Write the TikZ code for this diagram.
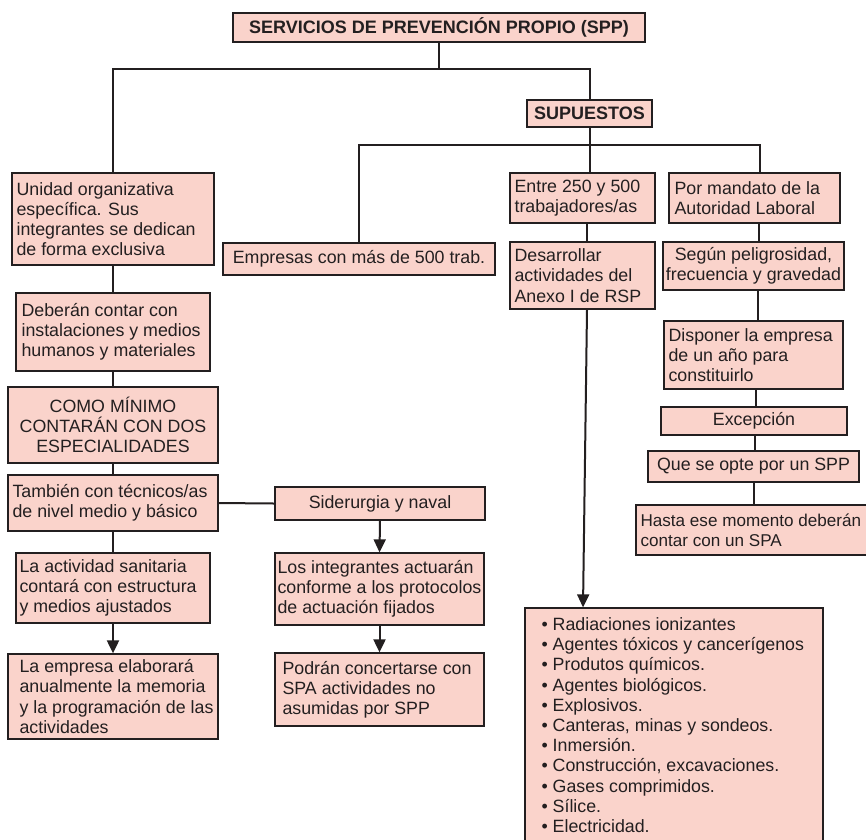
\documentclass[tikz,border=0pt]{standalone}
\usepackage{fontspec}
\setmainfont{Liberation Sans}
\usetikzlibrary{arrows.meta}
\definecolor{boxfill}{RGB}{250,211,203}
\definecolor{ink}{RGB}{35,31,32}
\tikzset{
  box/.style={draw=ink, fill=boxfill, line width=1.3pt, inner sep=0pt},
  txt/.style={inner sep=0pt, text=ink, font=\fontsize{17.8}{20.2}\selectfont},
  ttl/.style={inner sep=0pt, text=ink, font=\fontsize{18}{20}\selectfont\bfseries},
  link/.style={draw=ink, line width=2pt},
  arrow/.style={link, -{Triangle[length=13pt,width=12pt]}},
}
% box from corner (x1,y1) to (x2,y2), y counted downwards
\newcommand\boxat[5]{\node[box, minimum width={#4-#2}, minimum height={#5-#3}] (#1) at ({(#2+#4)/2},{(#3+#5)/2}) {};}
\newcommand\lefttext[3]{\node[txt, anchor=west, align=left] (#1-t) at ([xshift=#2pt]#1.west) {#3};}
\newcommand\midtext[2]{\node[txt, align=center] (#1-t) at (#1.center) {#2};}

\begin{document}
\begin{tikzpicture}[x=1pt, y=-1pt]
\useasboundingbox (0,0) rectangle (866,839);
\clip (0,0) rectangle (866,839);
\fill[white] (0,0) rectangle (866,839);

% top level
\boxat{title}{233}{13}{645}{42}
\node[ttl] (title-t) at (title.center) {SERVICIOS DE PREVENCIÓN PROPIO (SPP)};
\boxat{sup}{527}{100}{652}{127}
\node[ttl] (sup-t) at (sup.center) {SUPUESTOS};

% left column
\boxat{unidad}{12}{173}{214}{265}
\lefttext{unidad}{5}{Unidad organizativa\\específica. Sus\\integrantes se dedican\\de forma exclusiva}
\boxat{deberan}{16}{293}{210}{371}
\lefttext{deberan}{6}{Deberán contar con\\instalaciones y medios\\humanos y materiales}
\boxat{minimo}{8}{387}{218}{463}
\midtext{minimo}{COMO MÍNIMO\\CONTARÁN CON DOS\\ESPECIALIDADES}
\boxat{tambien}{8}{475}{218}{531}
\lefttext{tambien}{5}{También con técnicos/as\\de nivel medio y básico}
\boxat{actividad}{16}{553}{210}{623}
\lefttext{actividad}{4}{La actividad sanitaria\\contará con estructura\\y medios ajustados}
\boxat{empresa}{8}{654}{218}{739}
\lefttext{empresa}{12}{La empresa elaborará\\anualmente la memoria\\y la programación de las\\actividades}

% middle column
\boxat{sider}{275}{487}{485}{520}
\midtext{sider}{Siderurgia y naval}
\boxat{los}{275}{553}{484}{625}
\lefttext{los}{3}{Los integrantes actuarán\\conforme a los protocolos\\de actuación fijados}
\boxat{podran}{275}{653}{484}{726}
\lefttext{podran}{8}{Podrán concertarse con\\SPA actividades no\\asumidas por SPP}

% cases
\boxat{empresas}{223}{243}{495}{275}
\midtext{empresas}{Empresas con más de 500 trab.}
\boxat{entre}{510}{173}{655}{223}
\lefttext{entre}{5}{Entre 250 y 500\\trabajadores/as}
\boxat{desarrollar}{510}{242}{655}{309}
\lefttext{desarrollar}{5}{Desarrollar\\actividades del\\Anexo I de RSP}
\boxat{mandato}{669}{173}{840}{223}
\lefttext{mandato}{6}{Por mandato de la\\Autoridad Laboral}
\boxat{segun}{663}{242}{844}{290}
\midtext{segun}{Según peligrosidad,\\frecuencia y gravedad}
\boxat{disponer}{664}{321}{843}{389}
\lefttext{disponer}{5}{Disponer la empresa\\de un año para\\constituirlo}
\boxat{excepcion}{661}{407}{847}{435}
\midtext{excepcion}{Excepción}
\boxat{opte}{648}{451}{859}{482}
\midtext{opte}{Que se opte por un SPP}
\boxat{hasta}{636}{505}{880}{555}
\node[txt, anchor=west, align=left, font=\fontsize{17.1}{20.2}\selectfont] (hasta-t)
  at ([xshift=5pt]hasta.west) {Hasta ese momento deberán\\contar con un SPA};

% Anexo I list
\boxat{list}{525}{608}{823}{860}
\node[txt, anchor=north west, align=left] (list-t) at ([xshift=17pt,yshift=-10pt]list.north west)
  {• Radiaciones ionizantes\\• Agentes tóxicos y cancerígenos\\• Produtos químicos.\\• Agentes biológicos.\\• Explosivos.\\• Canteras, minas y sondeos.\\• Inmersión.\\• Construcción, excavaciones.\\• Gases comprimidos.\\• Sílice.\\• Electricidad.};

% junctions and line positions
\coordinate (j1) at (439,69);
\coordinate (j2) at (589,145);
\coordinate (xa) at (587,0);
\coordinate (xb) at (583,0);
\coordinate (xm0) at (760,0);
\coordinate (xm1) at (759,0);
\coordinate (xm2) at (758,0);
\coordinate (xm3) at (756,0);
\coordinate (xm4) at (755,0);
\coordinate (xm5) at (754,0);

% connectors
\draw[link] (title.south) -- (j1);
\draw[link] (unidad.north) |- (j1 -| sup.north) -- (sup.north);
\draw[link] (sup.south) -- (sup.south |- entre.north);
\draw[link] (empresas.north) |- (xm0 |- j2) -- (xm0 |- mandato.north);
\draw[link] (xa |- entre.south) -- (xa |- desarrollar.north);
\draw[arrow] (xa |- desarrollar.south) -- (xb |- list.north);
\draw[link] (xm1 |- mandato.south) -- (xm1 |- segun.north);
\draw[link] (xm2 |- segun.south) -- (xm2 |- disponer.north);
\draw[link] (xm3 |- disponer.south) -- (xm3 |- excepcion.north);
\draw[link] (xm4 |- excepcion.south) -- (xm4 |- opte.north);
\draw[link] (xm5 |- opte.south) -- (xm5 |- hasta.north);

\draw[link] (unidad.south) -- (deberan.north);
\draw[link] (deberan.south) -- (minimo.north);
\draw[link] (minimo.south) -- (tambien.north);
\draw[link] (tambien.south) -- (actividad.north);
\draw[arrow] (actividad.south) -- (empresa.north);
\draw[link] (tambien.east) -- (sider.west);
\draw[arrow] (sider.south) -- (los.north);
\draw[arrow] (los.south) -- (podran.north);
\end{tikzpicture}
\end{document}
